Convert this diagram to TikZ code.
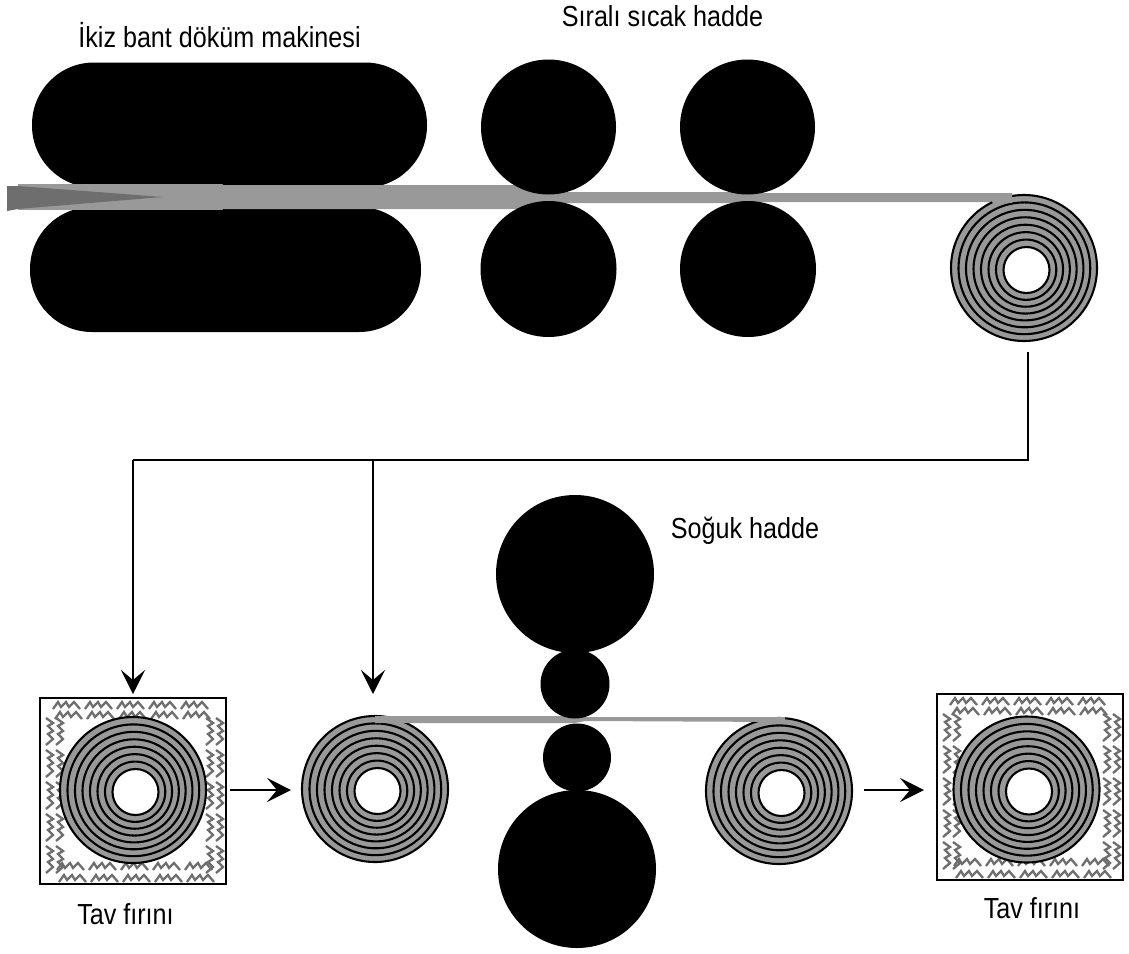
\documentclass[tikz,border=0pt]{standalone}
\usepackage{fontspec}
\setmainfont[FakeStretch=0.867]{Liberation Sans}
\usetikzlibrary{arrows.meta}
\definecolor{stripgray}{HTML}{999999}
\definecolor{wedgegray}{HTML}{6E6E6E}
\tikzset{
  roll/.style={circle, fill=black, inner sep=0pt},
  caster/.style={rectangle, fill=black, inner sep=0pt, rounded corners=62pt, minimum height=125pt},
  flow/.style={line width=1.7pt, -{Stealth[length=24pt,width=24pt,inset=10pt]}},
  pipe/.style={line width=1.7pt},
  lbl/.style={font=\fontsize{29}{34}\selectfont, inner sep=0pt, anchor=base},
  furnace/.style={draw=black, line width=1.8pt, fill=white},
  zigline/.style={draw=wedgegray, line width=2.3pt, line join=miter},
  coil/.pic={
    \fill[stripgray] (0,0) circle (73);
    \foreach \i in {1,...,6}
      \draw[line width=2.1pt] ({2.5*(1-\i/7)},{2*(1-\i/7)}) circle ({23+\i*50/7});
    \draw[line width=2.1pt] (0,0) circle (73);
    \draw[line width=2.1pt, fill=white] (2.5,2) circle (23);
  },
  zz/.pic={
    \draw[zigline] (0,3)--(5,-4)--(8,1)--(13,-4)--(16,1)--(21,-4)--(27,3);
  }
}
% one annealing box from its top left corner: frame, zigzag heaters on four sides
\newcommand{\tavbox}[2]{
  \draw[furnace] (#1,#2) rectangle (#1+186,#2+186);
  \foreach \i in {0,...,4} {
    \pic at (#1+13+\i*32,#2+8) {zz};
    \pic at (#1+15+\i*32,#2+18) {zz};
    \pic at (#1+17+\i*32,#2+169) {zz};
    \pic at (#1+19+\i*32,#2+181) {zz};
    \pic[rotate=-90] at (#1+9,#2+20+\i*32) {zz};
    \pic[rotate=-90] at (#1+19,#2+20+\i*32) {zz};
    \pic[rotate=-90] at (#1+169,#2+20+\i*32) {zz};
    \pic[rotate=-90] at (#1+179,#2+20+\i*32) {zz};
  }
}
\begin{document}
\begin{tikzpicture}[x=1pt,y=-1pt]
\useasboundingbox (0,0) rectangle (1129,953);
% twin belt caster
\node[caster, minimum width=395pt] (casterUp) at (229.5,125) {};
\node[caster, minimum width=391pt] (casterDown) at (225.5,269.5) {};
% strip through the hot line
\fill[stripgray] (18,184)--(222,184)--(222,210)--(18,210)--cycle;
\draw[wedgegray!70!stripgray, line width=1pt] (222,184)--(222,210);
\fill[stripgray] (222,185)--(520,185)--(560,192)--(740,192)--(755,193)--(1012,193)--(1012,202)--(755,202)--(740,203)--(560,203)--(520,209)--(222,209)--cycle;
\fill[wedgegray] (7,186)--(18,186)--(163,197)--(18,209)--(7,211)--cycle;
% hot mill stands
\node[roll, minimum size=135pt] (hotUpA) at (548.5,127) {};
\node[roll, minimum size=135pt] (hotUpB) at (747.5,127) {};
\node[roll, minimum size=136pt] (hotDownA) at (548.5,269) {};
\node[roll, minimum size=136pt] (hotDownB) at (748,269) {};
\coordinate (coilHot) at (1024,268);
\pic at (coilHot) {coil};
\fill[stripgray] (985,193)--(1012,193)--(1012,203)--(993,203)--cycle;
% routing to furnace and cold mill
\coordinate (routeStart) at (1028,352);
\coordinate (routeCorner) at (1028,460);
\coordinate (routeLeft) at (133,460);
\coordinate (routeMid) at (373,460);
\coordinate (furnaceIn) at (133,694);
\coordinate (coldIn) at (373,694);
\draw[pipe] (routeStart)--(routeCorner)--(routeLeft);
\draw[flow] (routeLeft)--(furnaceIn);
\draw[flow] (routeMid)--(coldIn);
% cold mill
\coordinate (coilLeft) at (375,789);
\coordinate (coilRight) at (779,791);
\pic at (coilLeft) {coil};
\pic at (coilRight) {coil};
\fill[stripgray] (375,716)--(575,716)--(585,717)--(785,717)--(785,722)--(585,721)--(575,723)--(375,723)--cycle;
\node[roll, minimum size=158pt] (coldBackUp) at (575,574) {};
\node[roll, minimum size=69pt] (coldWorkUp) at (575,684) {};
\node[roll, minimum size=68pt] (coldWorkDown) at (577,757.5) {};
\node[roll, minimum size=158pt] (coldBackDown) at (577,869) {};
% annealing furnaces
\tavbox{40}{698}
\tavbox{937}{694}
\coordinate (coilTavA) at (133,790);
\coordinate (coilTavB) at (1026.5,789.5);
\pic at (coilTavA) {coil};
\pic at (coilTavB) {coil};
\coordinate (feedA) at (230,790);
\coordinate (feedB) at (291,790);
\coordinate (feedC) at (864,790);
\coordinate (feedD) at (924,790);
\draw[flow] (feedA)--(feedB);
\draw[flow] (feedC)--(feedD);
% labels
\node[lbl] (labelCaster) at (219.5,47) {İkiz bant döküm makinesi};
\node[lbl] (labelHot) at (662.5,27) {Sıralı sıcak hadde};
\node[lbl] (labelCold) at (745,538) {Soğuk hadde};
\node[lbl] (labelTavA) at (125.5,924) {Tav fırını};
\node[lbl] (labelTavB) at (1032,918) {Tav fırını};
\end{tikzpicture}
\end{document}
